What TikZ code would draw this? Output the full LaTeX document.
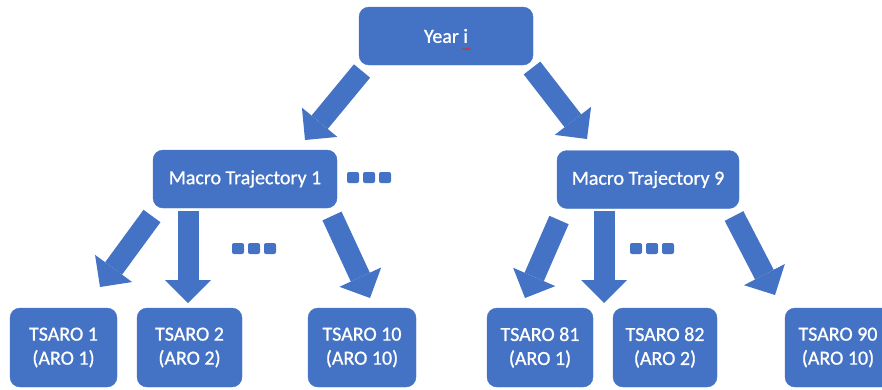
\documentclass[tikz,border=0pt]{standalone}
\usepackage{fontspec}
\setmainfont{Carlito}
\newfontfamily\boxfont{Carlito}[FakeBold=0.9]
\usetikzlibrary{arrows.meta,decorations.pathmorphing}

\definecolor{officeblue}{HTML}{4472C4}
\definecolor{spellred}{HTML}{D03030}

\tikzset{
  box/.style={fill=officeblue, draw=officeblue, rounded corners=10pt,
    text=white, align=center, inner sep=0pt,
    font=\boxfont\fontsize{20}{24}\selectfont},
  topbox/.style={box, minimum height=58pt},
  leafbox/.style={box, minimum height=79pt},
  blockarrow/.style={draw=officeblue, line width=21pt,
    -{Triangle[width=46pt,length=23pt,line width=0pt]}},
  dot/.style={fill=officeblue, rounded corners=2pt},
}

% three small rounded squares, left edge at #1, top at #2
\newcommand{\ellipsisdots}[2]{%
  \foreach \k in {0,1,2}
    \fill[dot] ({#1+\k*16},{#2}) rectangle ++(12,11);
}

\begin{document}
\begin{tikzpicture}[x=1pt, y=-1pt]
  \useasboundingbox (0,0) rectangle (882,389);
  \clip (0,0) rectangle (882,389);

  % boxes
  \node[topbox, minimum width=174pt] (year) at (446,36) {Year i};
  \node[topbox, minimum width=184pt] (mt1) at (245,179) {Macro Trajectory 1};
  \node[topbox, minimum width=182pt] (mt9) at (648,179.5) {Macro Trajectory 9};

  \node[leafbox, minimum width=107pt] (t1)  at (63.5,347.5) {TSARO 1\\(ARO 1)};
  \node[leafbox, minimum width=105pt] (t2)  at (189.5,347.5) {TSARO 2\\(ARO 2)};
  \node[leafbox, minimum width=108pt] (t10) at (362,347.5) {TSARO 10\\(ARO 10)};
  \node[leafbox, minimum width=106pt] (t81) at (540,347.5) {TSARO 81\\(ARO 1)};
  \node[leafbox, minimum width=104pt] (t82) at (665,347.5) {TSARO 82\\(ARO 2)};
  \node[leafbox, minimum width=106pt] (t90) at (838,347.5) {TSARO 90\\(ARO 10)};

  % spell-check squiggle under the "i"
  \coordinate (sqA) at (462.5,49);
  \coordinate (sqB) at (471,49);
  \draw[spellred, line width=0.7pt,
    decorate, decoration={snake, amplitude=0.8pt, segment length=2.6pt}]
    (sqA) -- (sqB);

  % arrow end points
  \coordinate (yL0) at (362,71);   \coordinate (yL1) at (305,140);
  \coordinate (yR0) at (532,68);   \coordinate (yR1) at (587,139);
  \coordinate (a10) at (152,216);  \coordinate (a11) at (100,287);
  \coordinate (a20) at (188,211);  \coordinate (a21) at (188,303);
  \coordinate (a30) at (332,216);  \coordinate (a31) at (370,298);
  \coordinate (b10) at (559,220);  \coordinate (b11) at (525,298);
  \coordinate (b20) at (604,211);  \coordinate (b21) at (604,303);
  \coordinate (b30) at (734,216);  \coordinate (b31) at (775,295);

  % block arrows
  \draw[blockarrow] (yL0) -- (yL1);
  \draw[blockarrow] (yR0) -- (yR1);
  \draw[blockarrow] (a10) -- (a11);
  \draw[blockarrow] (a20) -- (a21);
  \draw[blockarrow] (a30) -- (a31);
  \draw[blockarrow] (b10) -- (b11);
  \draw[blockarrow] (b20) -- (b21);
  \draw[blockarrow] (b30) -- (b31);

  % ellipsis markers
  \ellipsisdots{347}{172}
  \ellipsisdots{232}{243}
  \ellipsisdots{630}{243}
\end{tikzpicture}
\end{document}
